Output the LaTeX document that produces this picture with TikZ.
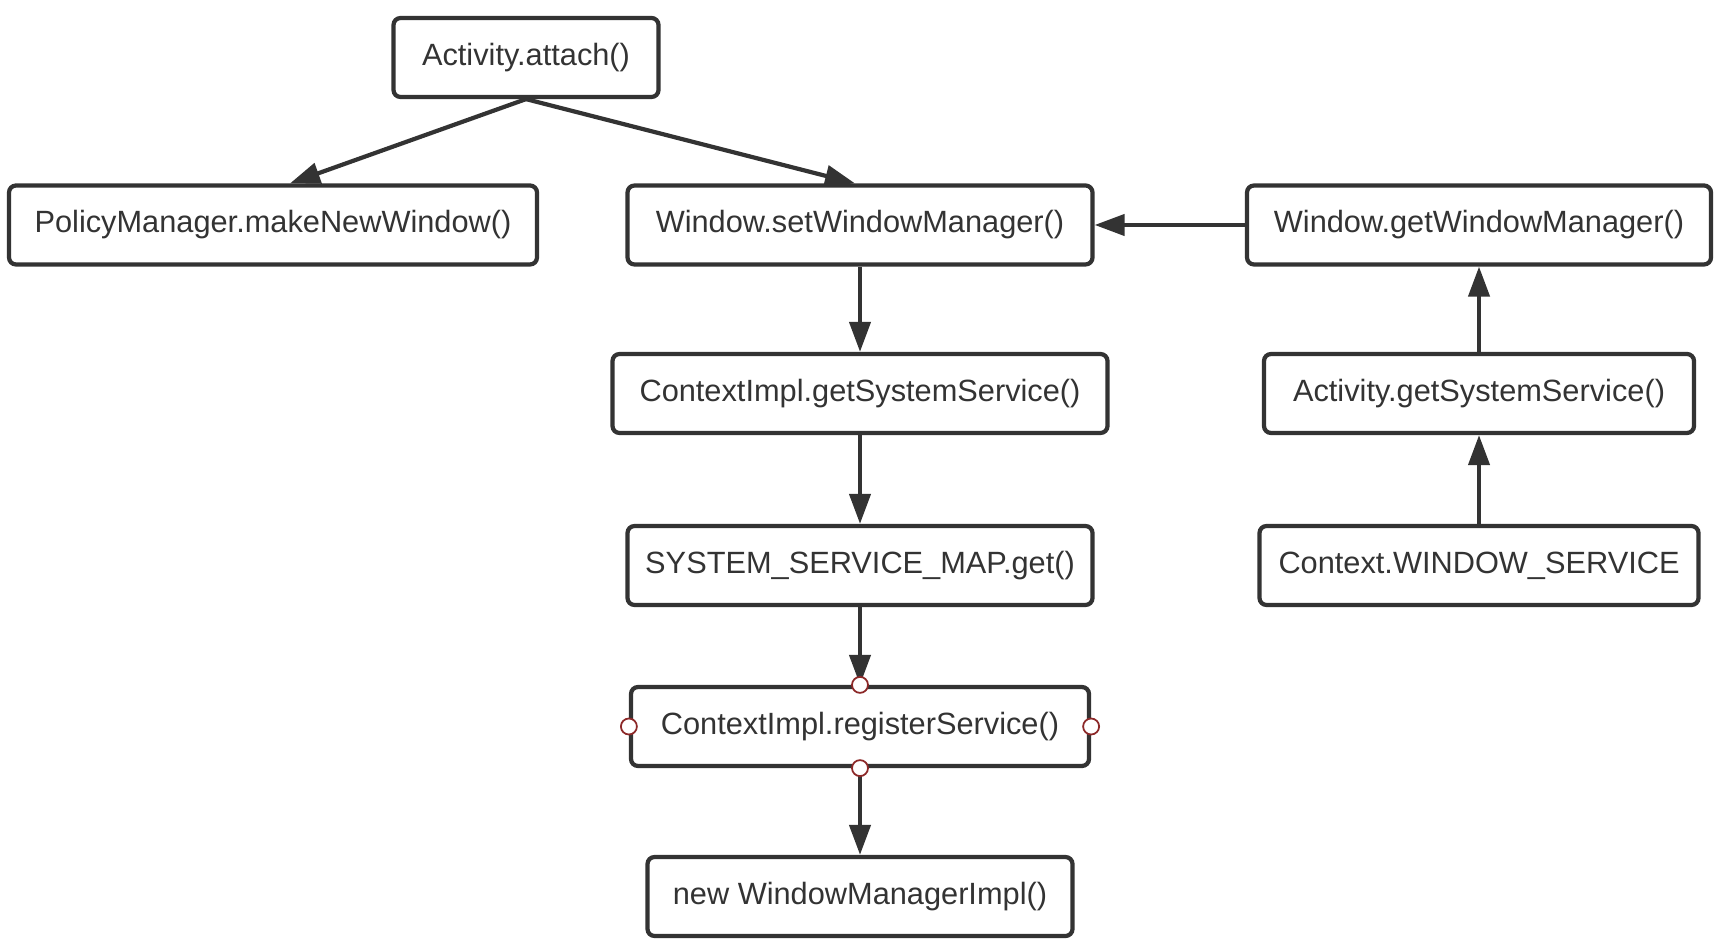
\documentclass[tikz,border=0pt]{standalone}
\usepackage{fontspec}
\setmainfont{Liberation Sans}
\usepackage{tikz}
\usetikzlibrary{positioning,calc}
\usetikzlibrary{arrows.meta}
\definecolor{InkGray}{RGB}{51,51,51}
\definecolor{HandleRed}{RGB}{140,40,40}
\tikzset{
	box/.style={draw=InkGray,line width=2.4pt,rounded corners=4pt,fill=white,text=InkGray,
		inner xsep=0.3cm,minimum height=1.58cm,font=\fontsize{17.5}{20}\selectfont},
	edge/.style={draw=InkGray,line width=2.4pt},
	handle/.style={circle,draw=HandleRed,fill=white,line width=1pt,inner sep=0pt,minimum size=0.32cm},
}
\begin{document}
\begin{tikzpicture}[>={Triangle[length=0.6cm,width=0.42cm]}]
	\useasboundingbox (0,0) rectangle (34.36,18.96);
	\node[box,minimum width=5.30cm] (att) at (10.52,17.81) {Activity.attach()};
	\node[box,minimum width=10.56cm] (pol) at (5.46,14.46) {PolicyManager.makeNewWindow()};
	\node[box,minimum width=9.30cm] (set) at (17.20,14.46) {Window.setWindowManager()};
	\node[box,minimum width=9.28cm] (getwm) at (29.58,14.46) {Window.getWindowManager()};
	\node[box,minimum width=9.90cm] (cgss) at (17.20,11.09) {ContextImpl.getSystemService()};
	\node[box,minimum width=8.60cm] (agss) at (29.58,11.09) {Activity.getSystemService()};
	\node[box,minimum width=9.30cm] (map) at (17.20,7.65) {SYSTEM\_SERVICE\_MAP.get()};
	\node[box,minimum width=8.78cm] (ws) at (29.58,7.65) {Context.WINDOW\_SERVICE};
	\node[box,minimum width=9.16cm] (reg) at (17.20,4.43) {ContextImpl.registerService()};
	\node[box,minimum width=8.50cm] (wmi) at (17.20,1.03) {new WindowManagerImpl()};
	\draw[edge,->] (att.south)--([xshift=0.34cm]pol.north);
	\draw[edge,->] (att.south)--([xshift=-0.1cm]set.north);
	\draw[edge,->] (getwm)--(set);
	\draw[edge,->] (set)--(cgss);
	\draw[edge,->] (cgss)--(map);
	\draw[edge,->] (map)--(reg);
	\draw[edge,->] (reg)--(wmi);
	\draw[edge,->] (ws)--(agss);
	\draw[edge,->] (agss)--(getwm);
	\foreach \side in {north,south,west,east}
		\node[handle] at (reg.\side) {};
\end{tikzpicture}
\end{document}
